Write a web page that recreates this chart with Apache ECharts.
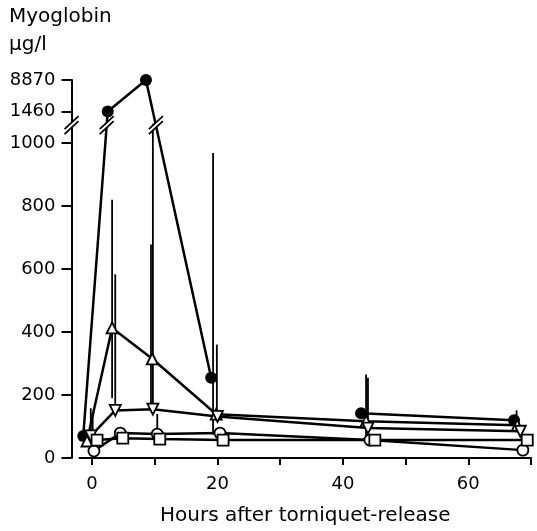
<!DOCTYPE html>
<html>
<head>
<meta charset="utf-8">
<script src="https://cdn.jsdelivr.net/npm/echarts@6/dist/echarts.min.js"></script>
<style>
  html, body { margin: 0; padding: 0; background: #fff; }
  #main { width: 537px; height: 531px; }
</style>
</head>
<body>
<div id="main"></div>
<script>
// myoglobin (ug/l) vs hours after torniquet release, one array per group: [hours, value]
var filledCircle = [[-1.4, 70], [2.5, 1460], [8.6, 8870], [19, 255], [30, '-'], [42.9, 142], [67.3, 120]];
var triUp = [[-0.8, 54], [3.2, 413], [9.6, 315], [19.8, 139], [43.7, 117], [67.8, 104]];
var triDown = [[-0.2, 70], [3.7, 151], [9.7, 155], [20, 132], [44, 95], [68.3, 85]];
var openCircle = [[0.3, 22], [4.5, 79], [10.4, 76], [20.4, 79], [44.3, 57], [68.7, 25]];
var openSquare = [[0.8, 57], [4.9, 63], [10.8, 60], [20.9, 57], [45.1, 57], [69.4, 57]];

// error bars: [hours, low, high]
var errBars = [
  [-0.2, 70, 158], [0.1, 57, 140],
  [3.2, 190, 820], [3.7, 151, 583],
  [9.4, 150, 678], [9.7, 155, 1280], [10.4, 76, 140],
  [19.3, 75, 968], [19.9, 132, 360],
  [43.7, 45, 265], [44, 95, 255],
  [67.7, 104, 151]
];

var yTicks = [0, 200, 400, 600, 800, 1000, 1460, 8870];
var xTicks = [0, 10, 20, 30, 40, 50, 60, 70];
var xLabels = [0, 20, 40, 60];
var breakValue = 1260; // where the axis is cut

// broken axis: linear up to 1000, then squeezed
function toDisp(v) {
  if (v === '-') return '-';
  if (v <= 1000) return v;
  if (v <= 1460) return 1000 + (v - 1000) / 460 * 100;
  return 1100 + (v - 1460) / (8870 - 1460) * 100;
}
function mapSeries(arr) {
  return arr.map(function (p) { return [p[0], toDisp(p[1])]; });
}

var dispTicks = yTicks.map(toDisp);
var labelFor = {};
yTicks.forEach(function (v) { labelFor[toDisp(v).toFixed(3)] = String(v); });

// break marks: on the y axis, and where the filled-circle line crosses the cut
var bd = toDisp(breakValue);
var breaks = [[-2, bd, 1]];
var fc = mapSeries(filledCircle);
for (var i = 0; i < fc.length - 1; i++) {
  var a = fc[i], b = fc[i + 1];
  if (a[1] === '-' || b[1] === '-') continue;
  if ((a[1] - bd) * (b[1] - bd) < 0) {
    var f = (bd - a[1]) / (b[1] - a[1]);
    breaks.push([a[0] + f * (b[0] - a[0]), bd, 0]);
  }
}

var FONT = 'DejaVu Sans';
var chart = echarts.init(document.getElementById('main'));

function lineSeries(data, symbol, rotate, filled) {
  return {
    type: 'line',
    data: mapSeries(data),
    symbol: symbol,
    symbolSize: filled ? 12 : 11,
    symbolRotate: rotate,
    showAllSymbol: true,
    connectNulls: false,
    lineStyle: { color: '#000', width: 2.5 },
    itemStyle: filled ? { color: '#000' } : { color: '#fff', borderColor: '#000', borderWidth: 1.8 },
    z: 3,
    animation: false
  };
}

var option = {
  animation: false,
  grid: { left: 79.5, right: 6, top: 80, bottom: 71 },
  xAxis: {
    type: 'value',
    min: -2,
    max: 70,
    name: 'Hours after torniquet-release',
    nameLocation: 'middle',
    nameGap: 48,
    nameTextStyle: { color: '#000', fontFamily: FONT, fontSize: 20 },
    splitLine: { show: false },
    axisLine: { onZero: false, lineStyle: { color: '#000', width: 2 } },
    axisTick: { length: 7, customValues: xTicks, lineStyle: { color: '#000', width: 2 } },
    axisLabel: { customValues: xLabels, margin: 17, color: '#000', fontFamily: FONT, fontSize: 18 }
  },
  yAxis: {
    type: 'value',
    min: 0,
    max: 1200,
    offset: 8,
    splitLine: { show: false },
    axisLine: { show: true, onZero: false, lineStyle: { color: '#000', width: 2 } },
    axisTick: { show: true, length: 10, customValues: dispTicks, lineStyle: { color: '#000', width: 2 } },
    axisLabel: {
      customValues: dispTicks,
      margin: 16,
      color: '#000',
      fontFamily: FONT,
      fontSize: 18,
      formatter: function (v) { return labelFor[v.toFixed(3)] || ''; }
    }
  },
  graphic: [
    { type: 'text', left: 9, top: 7, style: { text: 'Myoglobin', fontFamily: FONT, fontSize: 20, fill: '#000' } },
    { type: 'text', left: 9, top: 35, style: { text: 'μg/l', fontFamily: FONT, fontSize: 20, fill: '#000' } }
  ],
  series: [
    {
      type: 'custom',
      data: errBars.map(function (e) { return [e[0], toDisp(e[1]), toDisp(e[2])]; }),
      renderItem: function (params, api) {
        var p1 = api.coord([api.value(0), api.value(1)]);
        var p2 = api.coord([api.value(0), api.value(2)]);
        return { type: 'line', shape: { x1: p1[0], y1: p1[1], x2: p2[0], y2: p2[1] }, style: { stroke: '#000', lineWidth: 1.8 } };
      },
      z: 1,
      silent: true
    },
    lineSeries(filledCircle, 'circle', 0, true),
    lineSeries(triUp, 'triangle', 0, false),
    lineSeries(triDown, 'triangle', 180, false),
    lineSeries(openCircle, 'circle', 0, false),
    lineSeries(openSquare, 'rect', 0, false),
    {
      type: 'custom',
      data: breaks,
      clip: false,
      renderItem: function (params, api) {
        var c = api.coord([api.value(0), api.value(1)]);
        var x = c[0] - (api.value(2) ? 8 : 0), y = c[1];
        return {
          type: 'group',
          children: [
            { type: 'polygon', shape: { points: [[x - 7, y + 4.5], [x + 7, y - 8.5], [x + 7, y - 3.5], [x - 7, y + 9.5]] }, style: { fill: '#fff' } },
            { type: 'line', shape: { x1: x - 7, y1: y + 4, x2: x + 7, y2: y - 9 }, style: { stroke: '#000', lineWidth: 1.8 } },
            { type: 'line', shape: { x1: x - 7, y1: y + 9, x2: x + 7, y2: y - 4 }, style: { stroke: '#000', lineWidth: 1.8 } }
          ]
        };
      },
      z: 6,
      silent: true
    }
  ]
};
chart.setOption(option);
</script>
</body>
</html>
